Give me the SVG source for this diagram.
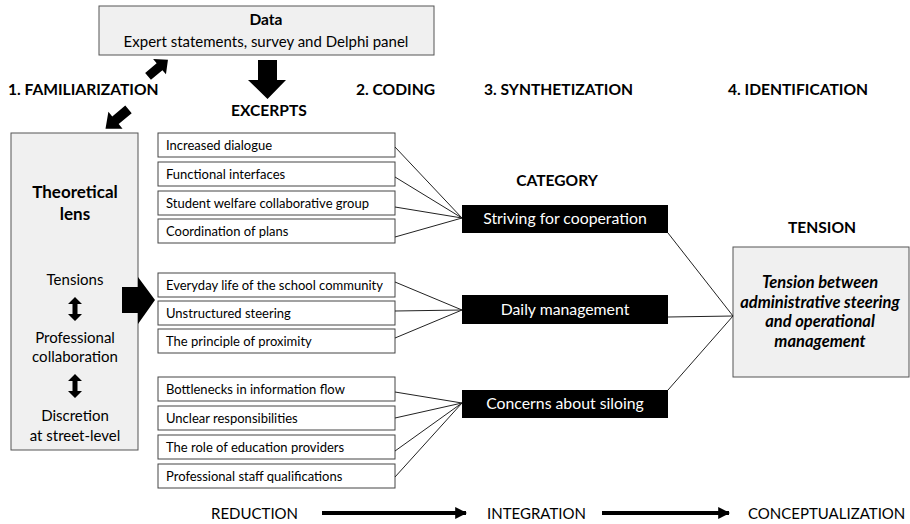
<svg xmlns="http://www.w3.org/2000/svg" width="910" height="524" viewBox="0 0 910 524">
<style>
text{font-family:Lato,"Open Sans","Liberation Sans",sans-serif;fill:#000}
.h{font-weight:bold;font-size:15.6px}
.ex{font-size:13px}
.cat{font-size:15.8px;fill:#fff;text-anchor:middle}
.c{text-anchor:middle}
.gray{fill:#f0f0f0;stroke:#555;stroke-width:1}
.exb{fill:#fff;stroke:#444;stroke-width:1}
.blk{fill:#000}
.ln{stroke:#222;stroke-width:1;fill:none}
.lens{font-size:15px;text-anchor:middle}
.bt{font-size:15px}
</style>
<defs>
<marker id="ah" viewBox="0 0 10 10" refX="9" refY="5" markerWidth="3" markerHeight="3" orient="auto"><path d="M0,0L10,5L0,10z" fill="#000"/></marker>
<path id="dbl" d="M0,-12 L7,-5 L2.5,-5 L2.5,5 L7,5 L0,12 L-7,5 L-2.5,5 L-2.5,-5 L-7,-5z"/>
</defs>

<g id="data">
<rect class="gray" x="99" y="6" width="335" height="49"/>
<text class="c" x="266" y="25" font-weight="bold" font-size="15.5">Data</text>
<text class="c" x="266" y="47" font-size="15">Expert statements, survey and Delphi panel</text>
</g>

<g id="headings">
<text class="h" x="8" y="95">1. FAMILIARIZATION</text>
<text class="h" x="231" y="116">EXCERPTS</text>
<text class="h" x="356" y="95">2. CODING</text>
<text class="h" x="484" y="95">3. SYNTHETIZATION</text>
<text class="h" x="728" y="95">4. IDENTIFICATION</text>
<text class="h c" x="557" y="186">CATEGORY</text>
<text class="h c" x="822" y="233">TENSION</text>
</g>

<g id="lens">
<rect class="gray" x="11" y="133" width="127" height="317"/>
<text class="c" x="75" y="198" font-weight="bold" font-size="17">Theoretical</text>
<text class="c" x="75" y="220" font-weight="bold" font-size="17">lens</text>
<text class="lens" x="75" y="285">Tensions</text>
<use href="#dbl" x="75" y="309"/>
<text class="lens" x="75" y="343">Professional</text>
<text class="lens" x="75" y="362">collaboration</text>
<use href="#dbl" x="75" y="386"/>
<text class="lens" x="75" y="421">Discretion</text>
<text class="lens" x="75" y="441">at street-level</text>
</g>

<g id="block-arrows">
<path class="blk" d="M258,60 H277 V80 H286 L267.5,99 L248,80 H258z"/>
<path class="blk" d="M122,287 H138 V277 L155,300 L138,324 V313 H122z"/>
<path class="blk" transform="translate(158,68) rotate(-40)" d="M-13,-4.5 H2 V-10 L13,0 L2,10 V4.5 H-13z"/>
<path class="blk" transform="translate(117,119) rotate(140)" d="M-15,-5 H2 V-11 L15,0 L2,11 V5 H-15z"/>
</g>

<g id="excerpts">
<rect class="exb" x="158" y="133" width="237" height="24"/><text class="ex" x="166" y="150">Increased dialogue</text>
<rect class="exb" x="158" y="162" width="237" height="24"/><text class="ex" x="166" y="179">Functional interfaces</text>
<rect class="exb" x="158" y="191" width="237" height="24"/><text class="ex" x="166" y="208">Student welfare collaborative group</text>
<rect class="exb" x="158" y="219" width="237" height="24"/><text class="ex" x="166" y="236">Coordination of plans</text>
<rect class="exb" x="158" y="273" width="237" height="24"/><text class="ex" x="166" y="290">Everyday life of the school community</text>
<rect class="exb" x="158" y="301" width="237" height="24"/><text class="ex" x="166" y="318">Unstructured steering</text>
<rect class="exb" x="158" y="329" width="237" height="24"/><text class="ex" x="166" y="346">The principle of proximity</text>
<rect class="exb" x="158" y="377" width="237" height="24"/><text class="ex" x="166" y="394">Bottlenecks in information flow</text>
<rect class="exb" x="158" y="406" width="237" height="24"/><text class="ex" x="166" y="423">Unclear responsibilities</text>
<rect class="exb" x="158" y="435" width="237" height="24"/><text class="ex" x="166" y="452">The role of education providers</text>
<rect class="exb" x="158" y="464" width="237" height="24"/><text class="ex" x="166" y="481">Professional staff qualifications</text>
</g>

<g id="categories">
<rect class="blk" x="462" y="205" width="206" height="28"/><text class="cat" x="565" y="224">Striving for cooperation</text>
<rect class="blk" x="462" y="295" width="206" height="29"/><text class="cat" x="565" y="315">Daily management</text>
<rect class="blk" x="462" y="390" width="206" height="28"/><text class="cat" x="565" y="409">Concerns about siloing</text>
</g>

<g id="tension">
<rect class="gray" x="733" y="247" width="176" height="130"/>
<g font-weight="bold" font-style="italic" font-size="16.5" text-anchor="middle">
<text x="820" y="288">Tension between</text>
<text x="820" y="308">administrative steering</text>
<text x="820" y="327">and operational</text>
<text x="820" y="347">management</text>
</g>
</g>

<g id="connectors">
<path class="ln" d="M395,147 L462,218 M395,177 L462,218 M395,207 L462,218 M395,237 L462,218"/>
<path class="ln" d="M395,282 L462,310 M395,311 L462,310 M395,338 L462,310"/>
<path class="ln" d="M395,392 L462,403 M395,418 L462,403 M395,451 L462,403 M395,477 L462,403"/>
<path class="ln" d="M668,233 L733,316 M668,317 L733,316 M668,390 L733,316"/>
<path stroke="#000" stroke-width="4" d="M322,513 H466" marker-end="url(#ah)"/>
<path stroke="#000" stroke-width="4" d="M602,513 H729" marker-end="url(#ah)"/>
</g>

<g id="stages">
<text class="bt" x="211" y="519">REDUCTION</text>
<text class="bt" x="487" y="519">INTEGRATION</text>
<text class="bt" x="748" y="519">CONCEPTUALIZATION</text>
</g>
</svg>
